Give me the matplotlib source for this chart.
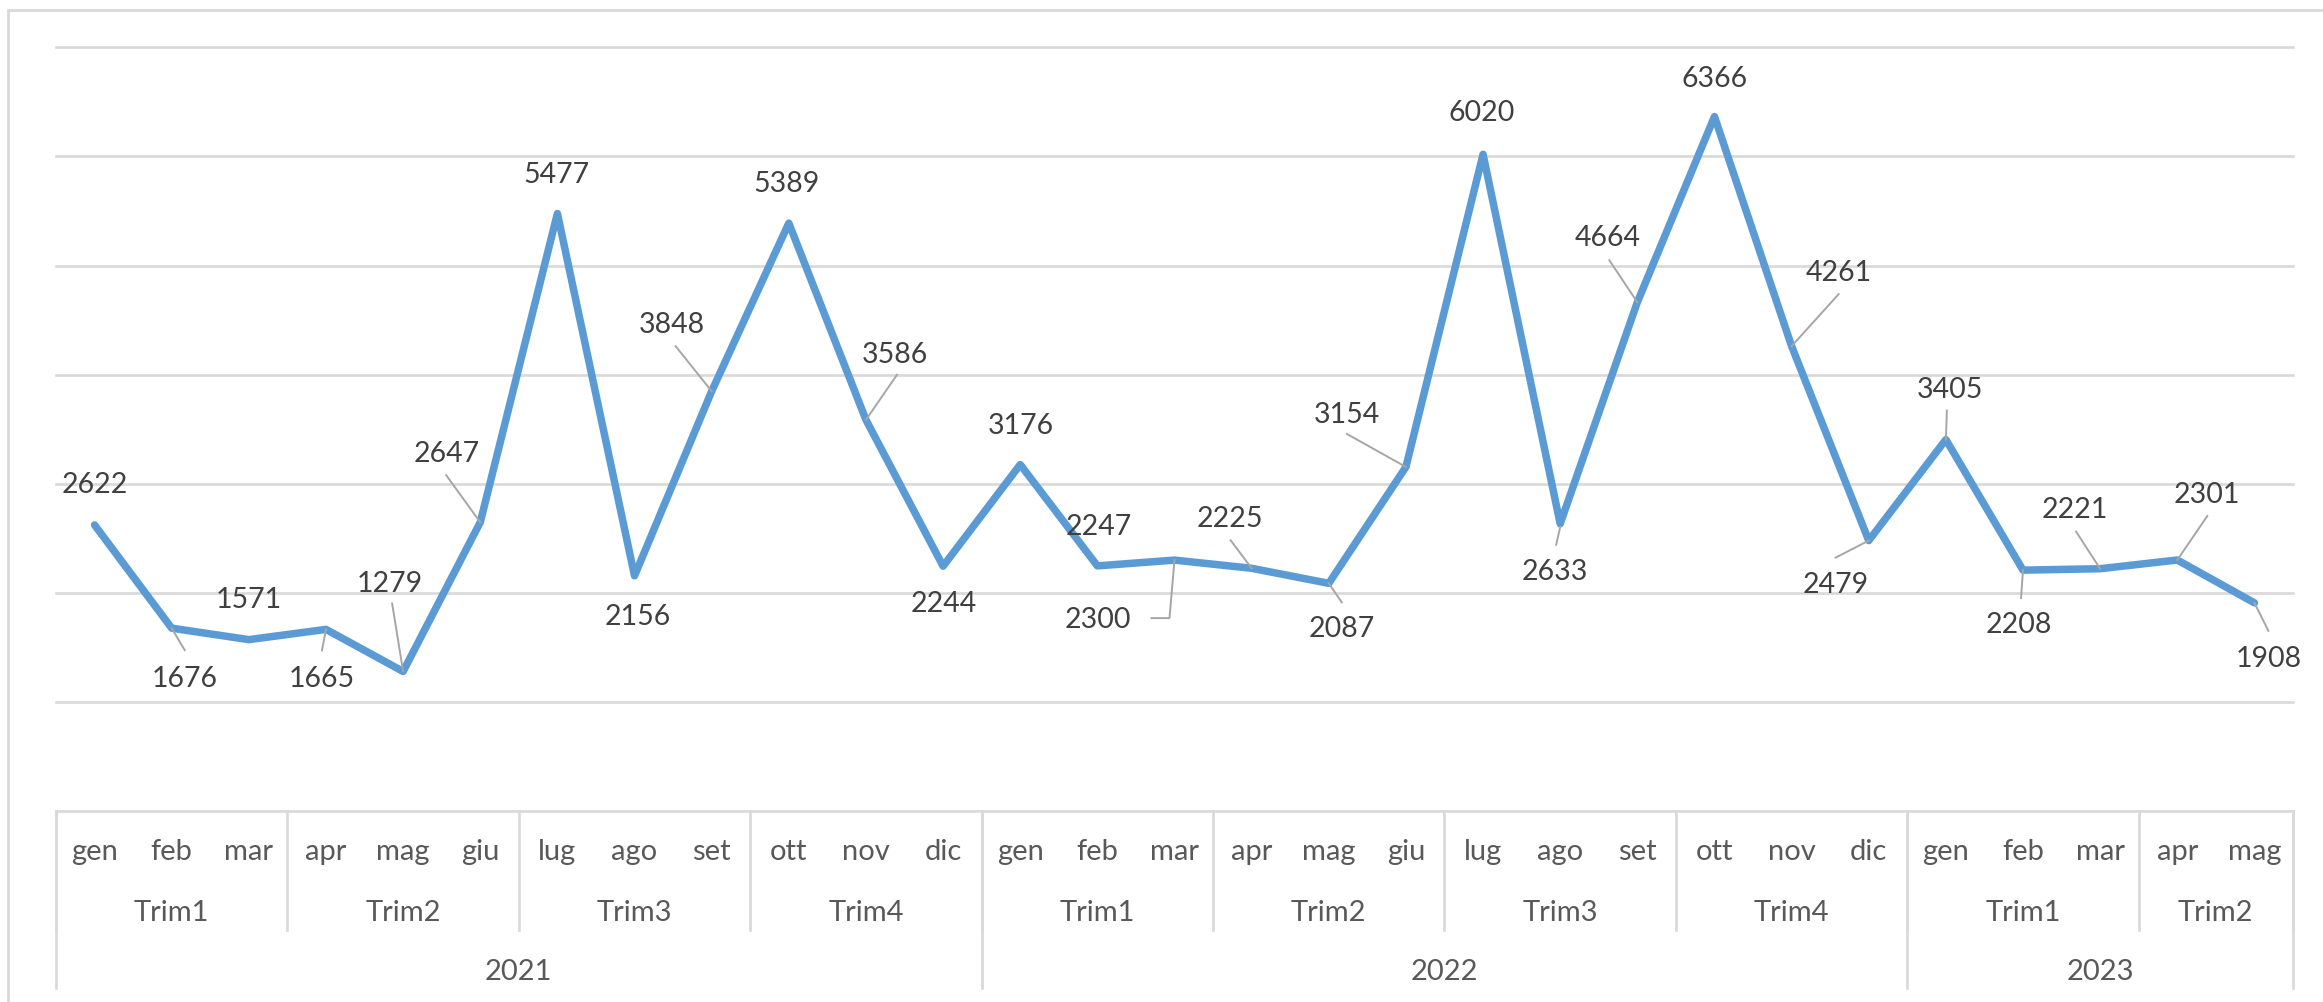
import matplotlib
matplotlib.use('Agg')
import matplotlib.pyplot as plt
from matplotlib.patches import Rectangle
from matplotlib.lines import Line2D
import matplotlib.transforms as mtransforms

plt.rcParams['font.family'] = ['Lato', 'DejaVu Sans']

# ---------------- data ----------------
months = ['gen', 'feb', 'mar', 'apr', 'mag', 'giu', 'lug', 'ago', 'set', 'ott', 'nov', 'dic',
          'gen', 'feb', 'mar', 'apr', 'mag', 'giu', 'lug', 'ago', 'set', 'ott', 'nov', 'dic',
          'gen', 'feb', 'mar', 'apr', 'mag']
quarters = ['Trim1', 'Trim2', 'Trim3', 'Trim4', 'Trim1', 'Trim2', 'Trim3', 'Trim4', 'Trim1', 'Trim2']
quarter_sizes = [3, 3, 3, 3, 3, 3, 3, 3, 3, 2]
years = ['2021', '2022', '2023']
year_sizes = [12, 12, 5]
values = [2622, 1676, 1571, 1665, 1279, 2647, 5477, 2156, 3848, 5389, 3586, 2244,
          3176, 2247, 2300, 2225, 2087, 3154, 6020, 2633, 4664, 6366, 4261, 2479,
          3405, 2208, 2221, 2301, 1908]

# label placement (pixel offsets of label centre from its point, y up)
label_offsets = [(0, 42), (13, -49), (0, 42), (-4, -48), (-13, 89), (-34, 70), (-1, 41),
                 (3, -39), (-40, 68), (-2, 41), (29, 67), (1, -36), (1, 41), (1, 41),
                 (-77, -58), (-22, 51), (13, -44), (-59, 54), (-1, 43), (-5, -46),
                 (-30, 66), (0, 40), (47, 75), (-33, -42), (4, 52), (-4, -53),
                 (-25, 61), (30, 67), (14, -54)]
# leader line paths (pixel offsets from the point)
leaders = {
    1: [(0, 0), (13, -22)],
    3: [(0, 0), (-4, -21)],
    4: [(-11, 68), (0, 0)],
    5: [(-34, 47), (0, 0)],
    8: [(-36, 45), (0, 0)],
    10: [(31, 45), (0, 0)],
    14: [(-23, -58), (-5, -58), (0, 0)],
    15: [(-21, 28), (0, 0)],
    16: [(0, 0), (13, -19)],
    17: [(-59, 33), (0, 0)],
    19: [(0, -3), (-4, -21)],
    20: [(-28, 42), (0, 0)],
    22: [(47, 52), (0, 0)],
    23: [(-33, -17), (0, 0)],
    24: [(1, 29), (0, 0)],
    25: [(0, 0), (-2, -28)],
    26: [(-24, 37), (0, 0)],
    27: [(30, 44), (0, 0)],
    28: [(0, 0), (14, -28)],
}

W, H = 2323, 1002
DPI = 100
fig = plt.figure(figsize=(W / DPI, H / DPI), dpi=DPI)
fig.patch.set_facecolor('white')

left, right, bottom, top = 56, 2293, 811, 47.4
ax = fig.add_axes([left / W, (H - bottom) / H, (right - left) / W, (bottom - top) / H])
ax.set_xlim(-0.5, len(values) - 0.5)
ax.set_ylim(0, 7000)
ax.set_axis_off()

grid_color = '#d9d9d9'
for gv in range(1000, 8000, 1000):
    ax.axhline(gv, color=grid_color, lw=1.9, zorder=1, clip_on=False)
ax.axhline(0, color=grid_color, lw=1.9, zorder=1, clip_on=False)

xs = list(range(len(values)))
ax.plot(xs, values, color='#5B9BD5', lw=5.4, solid_joinstyle='round',
        solid_capstyle='round', zorder=3)

label_color = '#404040'
for i, v in enumerate(values):
    dx, dy = label_offsets[i]
    ax.annotate(str(v), xy=(i, v), xytext=(dx, dy - 10), textcoords='offset pixels',
                ha='center', va='baseline', fontsize=20.5, color=label_color, zorder=5)

for i, path in leaders.items():
    px, py = ax.transData.transform((i, values[i]))
    tr = mtransforms.Affine2D().translate(px, py)
    line = Line2D([p[0] for p in path], [p[1] for p in path], transform=tr,
                  color='#a6a6a6', lw=1.4, zorder=4)
    fig.add_artist(line)

# ---- multi-level category axis ----
xt = ax.get_xaxis_transform()
ax_h = bottom - top
def fy(ypix):
    return -(ypix - bottom) / ax_h

cat_color = '#595959'
for i, m in enumerate(months):
    ax.text(i, fy(860), m, transform=xt, ha='center', va='baseline', fontsize=21,
            color=cat_color, clip_on=False)

pos = -0.5
ax.plot([pos, pos], [0, fy(930)], transform=xt, color=grid_color, lw=1.9, clip_on=False)
for q, s in zip(quarters, quarter_sizes):
    ax.text(pos + s / 2, fy(921), q, transform=xt, ha='center', va='baseline',
            fontsize=21, color=cat_color, clip_on=False)
    pos += s
    ax.plot([pos, pos], [0, fy(930)], transform=xt, color=grid_color, lw=1.9, clip_on=False)

pos = -0.5
ax.plot([pos, pos], [0, fy(988)], transform=xt, color=grid_color, lw=1.9, clip_on=False)
for y, s in zip(years, year_sizes):
    ax.text(pos + s / 2, fy(980), y, transform=xt, ha='center', va='baseline',
            fontsize=21, color=cat_color, clip_on=False)
    pos += s
    ax.plot([pos, pos], [0, fy(988)], transform=xt, color=grid_color, lw=1.9, clip_on=False)

# chart border (left and top edges visible)
fig.patches.append(Rectangle((8 / W, -0.1), 1.2, 1 - 10 / H + 0.1, transform=fig.transFigure,
                             fill=False, edgecolor='#d9d9d9', lw=2))

fig.savefig('out.png', dpi=DPI, facecolor='white')
